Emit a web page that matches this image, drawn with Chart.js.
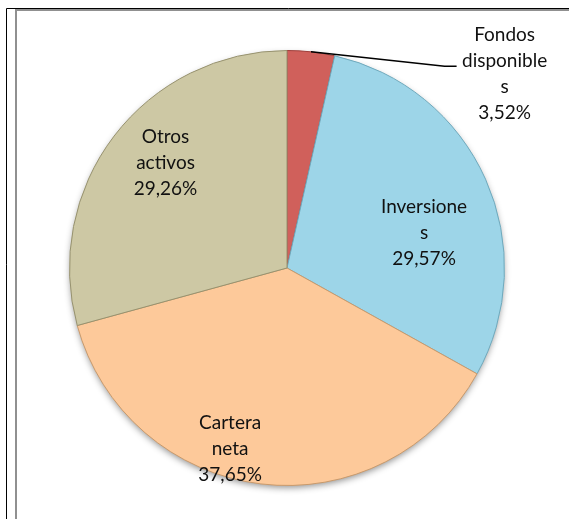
<!DOCTYPE html>
<html>
<head>
<meta charset="utf-8">
<script src="https://cdn.jsdelivr.net/npm/chart.js@4.4.0/dist/chart.umd.min.js"></script>
<style>
  html, body { margin: 0; padding: 0; background: #fff; }
  #wrap { position: relative; width: 569px; height: 519px; }
</style>
</head>
<body>
<div id="wrap"><canvas id="pie"></canvas></div>
<script>
// Categories, as they wrap in the picture
const categories = ["Fondos disponibles", "Inversiones", "Cartera neta", "Otros activos"];
const labelLines = [["Fondos", "disponible", "s"], ["Inversione", "s"], ["Cartera", "neta"], ["Otros", "activos"]];
// Share of each slice in percent
const shares = [3.52, 29.57, 37.65, 29.26];
// Slice colours
const sliceColors = ["#D0605B", "#9DD5E8", "#FDC99A", "#CDC8A4"];
const edgeColors = ["#9E3F3B", "#6FA9BC", "#C99A6C", "#97926F"];
// Where each label sits: angle (deg, clockwise from top) and radius as fraction of the pie
const labelPlace = [
  { angle: 48.3, r: 1.34, leader: true },
  { angle: 75.8, r: 0.65 },
  { angle: 197.5, r: 0.87 },
  { angle: 311, r: 0.74 },
];

const fmt = (v) => v.toFixed(2).replace(".", ",") + "%";

// Frame lines like the pasted Excel object
const framePlugin = {
  id: "frame",
  beforeDraw(chart) {
    const ctx = chart.ctx;
    ctx.save();
    ctx.strokeStyle = "#909090";
    ctx.lineWidth = 2;
    ctx.beginPath();
    ctx.moveTo(16, 530);
    ctx.lineTo(16, 10);
    ctx.lineTo(580, 10);
    ctx.stroke();
    ctx.strokeStyle = "#000";
    ctx.lineWidth = 1;
    ctx.beginPath();
    ctx.moveTo(6.5, 530);
    ctx.lineTo(6.5, 8.5);
    ctx.lineTo(580, 8.5);
    ctx.stroke();
    ctx.restore();
  },
  // soft shadow under the pie
  beforeDatasetsDraw(chart) {
    const arc = chart.getDatasetMeta(0).data[0];
    if (!arc) return;
    const ctx = chart.ctx;
    ctx.save();
    ctx.shadowColor = "rgba(0,0,0,0.45)";
    ctx.shadowBlur = 7;
    ctx.shadowOffsetY = 3;
    ctx.fillStyle = "#ddd";
    ctx.beginPath();
    ctx.arc(arc.x, arc.y, arc.outerRadius - 1, 0, Math.PI * 2);
    ctx.fill();
    ctx.restore();
  },
};

// Labels drawn at their places, with a leader line for the small slice
const labelPlugin = {
  id: "sliceLabels",
  afterDatasetsDraw(chart) {
    const ctx = chart.ctx;
    const meta = chart.getDatasetMeta(0);
    ctx.save();
    ctx.font = "19px Lato, 'Open Sans', sans-serif";
    ctx.fillStyle = "#111";
    ctx.textAlign = "center";
    ctx.textBaseline = "middle";
    const lh = 26;
    meta.data.forEach((arc, i) => {
      const p = labelPlace[i];
      const a = (p.angle - 90) * Math.PI / 180;
      const cx = arc.x + Math.cos(a) * arc.outerRadius * p.r;
      const cy = arc.y + Math.sin(a) * arc.outerRadius * p.r;
      const lines = labelLines[i].concat([fmt(shares[i])]);
      const top = cy - (lines.length - 1) * lh / 2;
      lines.forEach((t, k) => ctx.fillText(t, cx, top + k * lh));
      if (p.leader) {
        const mid = (arc.startAngle + arc.endAngle) / 2;
        const sx = arc.x + Math.cos(mid) * arc.outerRadius;
        const sy = arc.y + Math.sin(mid) * arc.outerRadius;
        const ey = top + lh * 1.2;
        ctx.strokeStyle = "#000";
        ctx.lineWidth = 1.5;
        ctx.beginPath();
        ctx.moveTo(sx, sy);
        ctx.lineTo(cx - 60, ey);
        ctx.lineTo(cx - 48, ey);
        ctx.stroke();
      }
    });
    ctx.restore();
  },
};

new Chart(document.getElementById("pie"), {
  type: "pie",
  plugins: [framePlugin, labelPlugin],
  data: {
    labels: categories,
    datasets: [
      {
        data: shares,
        backgroundColor: sliceColors,
        borderColor: edgeColors,
        borderWidth: 1,
      },
    ],
  },
  options: {
    responsive: true,
    maintainAspectRatio: false,
    animation: false,
    layout: { padding: { left: 69, right: 64, top: 50, bottom: 33 } },
    plugins: {
      legend: { display: false },
      tooltip: { enabled: false },
    },
  },
});
</script>
</body>
</html>
